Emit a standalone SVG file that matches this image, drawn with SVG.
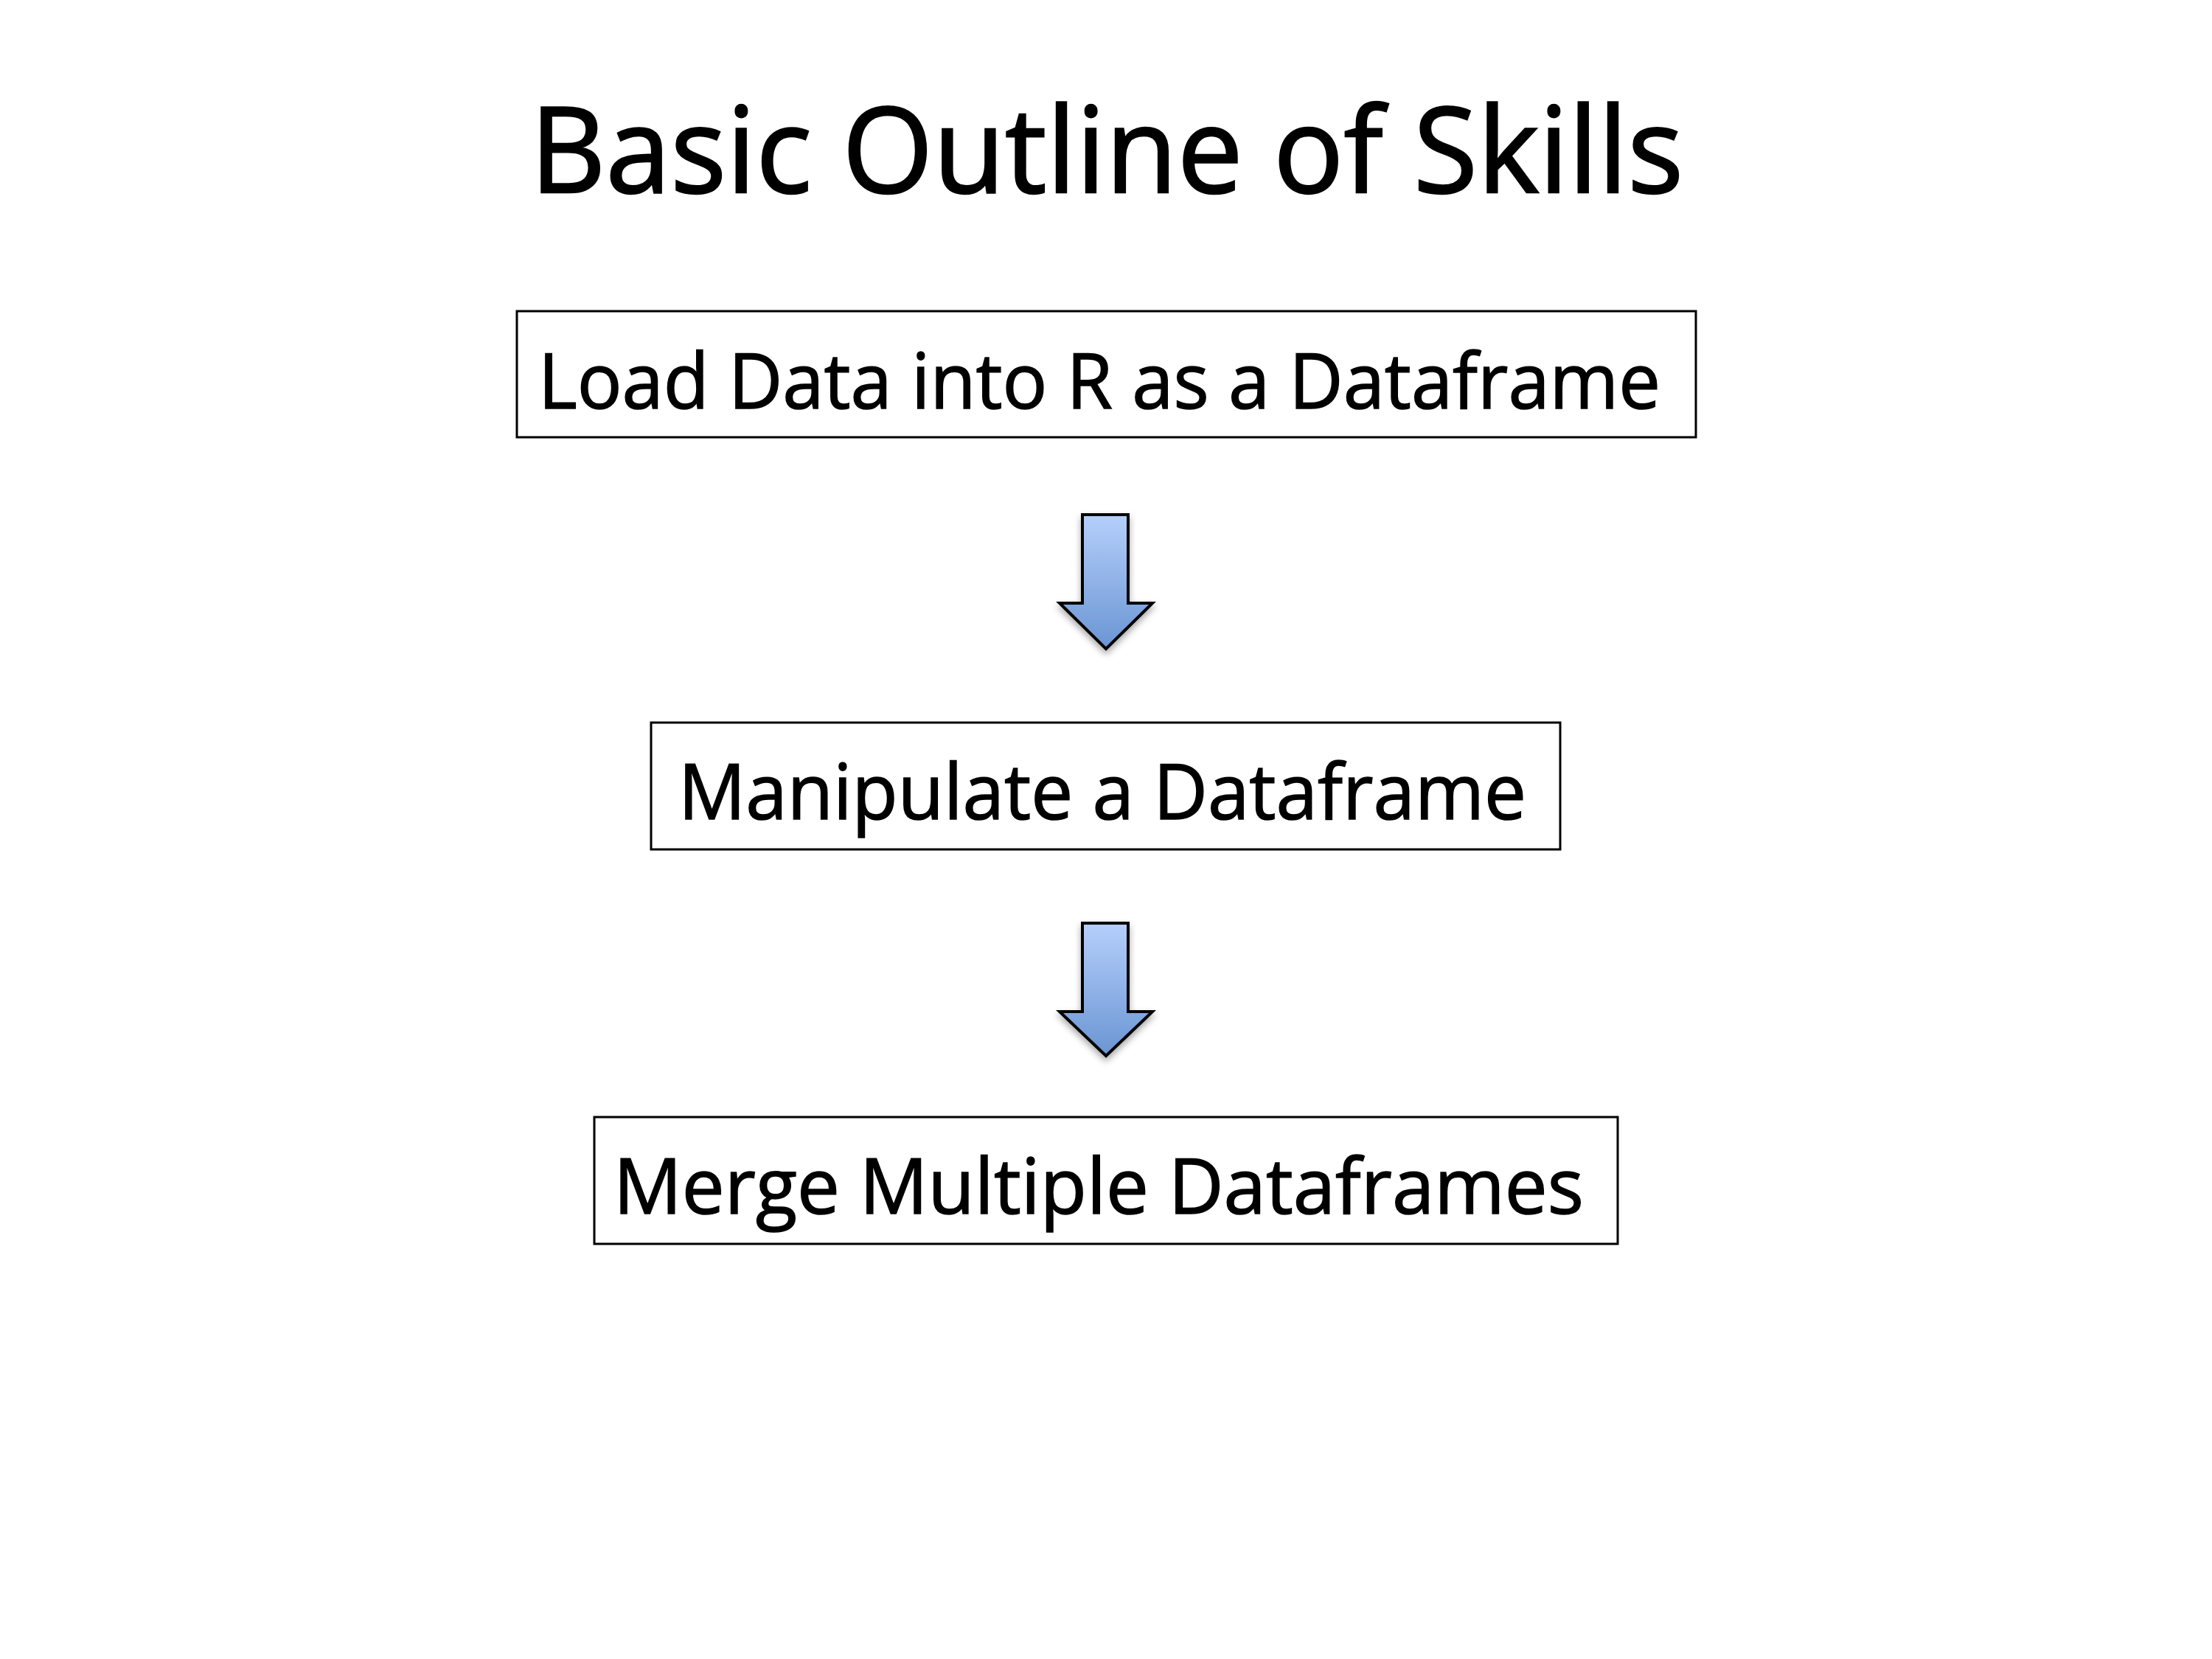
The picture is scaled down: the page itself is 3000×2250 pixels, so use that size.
<svg xmlns="http://www.w3.org/2000/svg" width="3000" height="2250" viewBox="0 0 3000 2250">
<style>
.box{fill:#ffffff;stroke:#000000;stroke-width:3}
.lbl{font-family:"Open Sans","Noto Sans",sans-serif;font-size:104px;fill:#000000;stroke:#000000;stroke-width:1.5}
.ttl{font-family:"Open Sans","Noto Sans",sans-serif;font-size:162px;fill:#000000;stroke:#000000;stroke-width:2.5}
.arr{fill:url(#blue);stroke:#000000;stroke-width:4;stroke-linejoin:miter;filter:url(#shadow)}
</style>
<defs>
<linearGradient id="blue" x1="0" y1="0" x2="0" y2="1">
<stop offset="0" stop-color="#b5cffb"/>
<stop offset="1" stop-color="#6a95d3"/>
</linearGradient>
<filter id="shadow" x="-30%" y="-20%" width="160%" height="150%">
<feDropShadow dx="0" dy="5" stdDeviation="5" flood-color="#000000" flood-opacity="0.35"/>
</filter>
</defs>
<rect width="3000" height="2250" fill="#ffffff"/>
<text class="ttl" x="719" y="261" textLength="1564" lengthAdjust="spacingAndGlyphs">Basic Outline of Skills</text>
<g id="node-load">
<rect class="box" x="701" y="422" width="1599" height="171"/>
<text class="lbl" x="730" y="554" textLength="1522" lengthAdjust="spacingAndGlyphs">Load Data into R as a Dataframe</text>
</g>
<g id="node-manipulate">
<rect class="box" x="883" y="980" width="1233" height="172"/>
<text class="lbl" x="920" y="1111" textLength="1150" lengthAdjust="spacingAndGlyphs">Manipulate a Dataframe</text>
</g>
<g id="node-merge">
<rect class="box" x="806" y="1515" width="1388" height="172"/>
<text class="lbl" x="832" y="1646" textLength="1316" lengthAdjust="spacingAndGlyphs">Merge Multiple Dataframes</text>
</g>
<g id="connectors">
<path class="arr" d="M1468,698 H1530 V818 H1563 L1500,880 L1437,818 H1468 Z"/>
<path class="arr" d="M1468,1252 H1530 V1372 H1563 L1500,1432 L1437,1372 H1468 Z"/>
</g>
</svg>
